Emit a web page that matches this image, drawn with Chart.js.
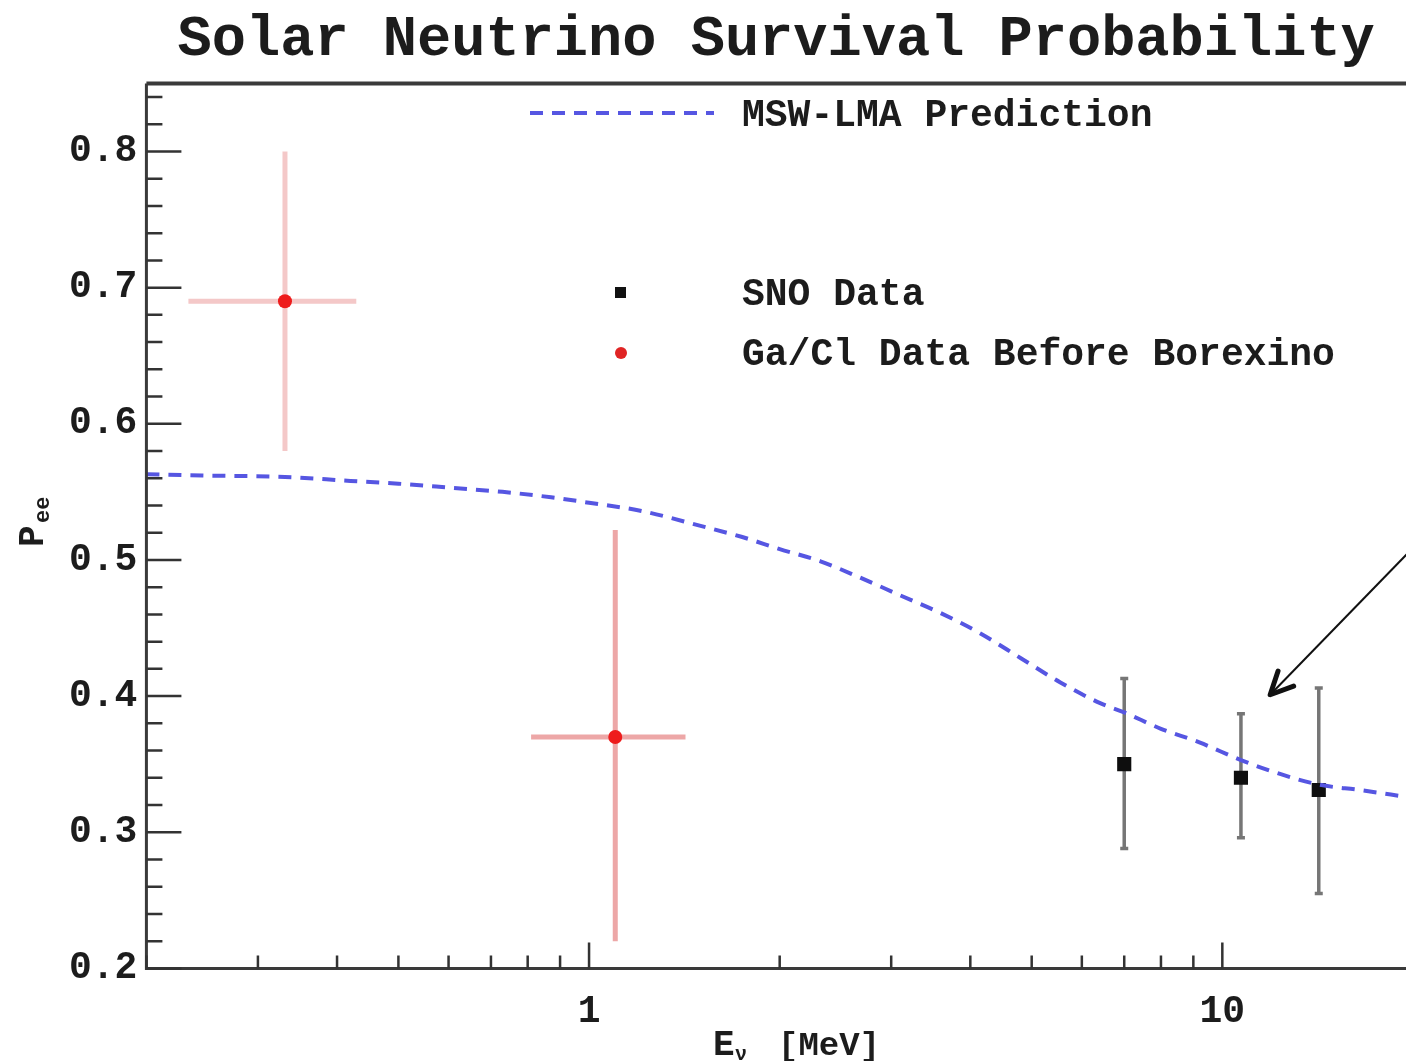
<!DOCTYPE html>
<html>
<head>
<meta charset="utf-8">
<script src="https://cdn.jsdelivr.net/npm/chart.js@4.4.1/dist/chart.umd.min.js"></script>
<style>
  html, body { margin: 0; padding: 0; background: #fff; overflow: hidden; }
  #wrap { width: 1416px; height: 1061px; }
</style>
</head>
<body>
<div id="wrap"><canvas id="chart"></canvas></div>
<script>
const FONT = '"Liberation Mono", "DejaVu Sans Mono", monospace';
const INK = "#1c1c1c";
const BLUE = "#5656e2";

// MSW-LMA prediction
const mswEnergy = [0.2, 0.245, 0.331, 0.42, 0.5, 0.606, 0.73, 0.871, 1.0, 1.21, 1.5, 1.74, 2.0, 2.32, 2.68, 3.1, 3.59, 4.15, 4.8, 5.55, 6.4, 7.0, 8.0, 9.2, 10.7, 12.3, 14.2, 16.5, 19.5];
const mswPee = [0.563, 0.562, 0.561, 0.558, 0.556, 0.553, 0.55, 0.546, 0.542, 0.536, 0.525, 0.517, 0.508, 0.499, 0.487, 0.474, 0.461, 0.446, 0.428, 0.41, 0.395, 0.388, 0.376, 0.366, 0.353, 0.343, 0.335, 0.331, 0.326];

// SNO data (vertical errors only)
const snoEnergy = [7.0, 10.7, 14.2];
const snoPee = [0.35, 0.34, 0.331];
const snoHi = [0.413, 0.387, 0.406];
const snoLo = [0.288, 0.296, 0.255];

// Ga/Cl data before Borexino
const gaEnergy = [0.331, 1.10];
const gaPee = [0.69, 0.37];
const gaHi = [0.80, 0.522];
const gaLo = [0.58, 0.22];
const gaELo = [0.233, 0.81];
const gaEHi = [0.429, 1.42];

// axis ticks
const xTickValues = [0.2, 0.3, 0.4, 0.5, 0.6, 0.7, 0.8, 0.9, 1, 2, 3, 4, 5, 6, 7, 8, 9, 10];
const xMajor = [1, 10];
const yTickValues = [0.2, 0.3, 0.4, 0.5, 0.6, 0.7, 0.8];

// arrow annotation, in data units
const arrowFrom = { x: 21, y: 0.519 };
const arrowTo = { x: 11.9, y: 0.401 };

const pts = (xs, ys) => xs.map((x, i) => ({ x, y: ys[i] }));

const decorPlugin = {
  id: "decor",
  beforeDatasetsDraw(chart) {
    const { ctx, scales: { x, y } } = chart;
    ctx.save();
    // Ga/Cl error bars
    const gaBarColors = ["rgba(226,110,110,0.38)", "rgba(220,80,80,0.5)"];
    ctx.lineWidth = 5;
    gaEnergy.forEach((e, i) => {
      const px = x.getPixelForValue(e), py = y.getPixelForValue(gaPee[i]);
      ctx.strokeStyle = gaBarColors[i];
      ctx.beginPath();
      ctx.moveTo(px, y.getPixelForValue(gaHi[i]));
      ctx.lineTo(px, y.getPixelForValue(gaLo[i]));
      ctx.moveTo(x.getPixelForValue(gaELo[i]), py);
      ctx.lineTo(x.getPixelForValue(gaEHi[i]), py);
      ctx.stroke();
    });
    // SNO error bars
    ctx.strokeStyle = "rgba(60,60,60,0.7)";
    ctx.lineWidth = 3.5;
    snoEnergy.forEach((e, i) => {
      const px = x.getPixelForValue(e);
      const t = y.getPixelForValue(snoHi[i]), b = y.getPixelForValue(snoLo[i]);
      ctx.beginPath();
      ctx.moveTo(px, t);
      ctx.lineTo(px, b);
      ctx.moveTo(px - 4, t); ctx.lineTo(px + 4, t);
      ctx.moveTo(px - 4, b); ctx.lineTo(px + 4, b);
      ctx.stroke();
    });
    ctx.restore();
  },
  afterDraw(chart) {
    const { ctx, chartArea: ca, scales: { x, y } } = chart;
    ctx.save();
    // frame
    ctx.strokeStyle = "#3a3a3a";
    ctx.lineWidth = 4;
    ctx.beginPath();
    ctx.moveTo(ca.left, ca.top);
    ctx.lineTo(ca.right + 2, ca.top);
    ctx.stroke();
    ctx.lineWidth = 3;
    ctx.beginPath();
    ctx.moveTo(ca.left, ca.top);
    ctx.lineTo(ca.left, ca.bottom);
    ctx.lineTo(ca.right + 2, ca.bottom);
    ctx.stroke();

    // inward tick marks
    ctx.strokeStyle = "#333";
    ctx.lineWidth = 2.5;
    ctx.beginPath();
    xTickValues.forEach((v) => {
      const px = x.getPixelForValue(v);
      const len = xMajor.includes(v) ? 26 : 13;
      ctx.moveTo(px, ca.bottom);
      ctx.lineTo(px, ca.bottom - len);
    });
    for (let k = 0; k < yTickValues.length; k++) {
      const base = yTickValues[k];
      for (let j = 0; j < 5; j++) {
        const v = base + j * 0.02;
        if (v > y.max) break;
        const py = y.getPixelForValue(v);
        ctx.moveTo(ca.left, py);
        ctx.lineTo(ca.left + (j === 0 ? 35 : 16), py);
      }
    }
    ctx.stroke();

    // legend
    ctx.fillStyle = INK;
    ctx.font = `bold 38px ${FONT}`;
    ctx.textBaseline = "middle";
    ctx.textAlign = "left";
    ctx.strokeStyle = BLUE;
    ctx.lineWidth = 4;
    ctx.setLineDash([13, 9]);
    ctx.beginPath();
    ctx.moveTo(530, 113);
    ctx.lineTo(714, 113);
    ctx.stroke();
    ctx.setLineDash([]);
    ctx.fillText("MSW-LMA Prediction", 742, 116);
    ctx.fillStyle = "#111";
    ctx.fillRect(615, 287, 11, 11);
    ctx.fillStyle = INK;
    ctx.fillText("SNO Data", 742, 295);
    ctx.fillStyle = "#e02424";
    ctx.beginPath();
    ctx.arc(621, 353, 6, 0, Math.PI * 2);
    ctx.fill();
    ctx.fillStyle = INK;
    ctx.fillText("Ga/Cl Data Before Borexino", 742, 355);

    // axis titles
    ctx.textBaseline = "alphabetic";
    ctx.font = `bold 36px ${FONT}`;
    ctx.fillText("E", 713, 1055);
    ctx.font = `bold 20px ${FONT}`;
    ctx.fillText("\u03bd", 735, 1060);
    ctx.font = `bold 34px ${FONT}`;
    ctx.fillText("[MeV]", 778, 1055);

    ctx.save();
    ctx.translate(43, 547);
    ctx.rotate(-Math.PI / 2);
    ctx.font = `bold 36px ${FONT}`;
    ctx.fillText("P", 0, 0);
    ctx.font = `bold 22px ${FONT}`;
    ctx.fillText("ee", 24, 6);
    ctx.restore();

    // arrow
    const ax = x.getPixelForValue(arrowFrom.x), ay = y.getPixelForValue(arrowFrom.y);
    const bx = x.getPixelForValue(arrowTo.x), by = y.getPixelForValue(arrowTo.y);
    ctx.strokeStyle = "#111";
    ctx.lineWidth = 2;
    ctx.beginPath();
    ctx.moveTo(ax, ay);
    ctx.lineTo(bx, by);
    ctx.stroke();
    const ang = Math.atan2(ay - by, ax - bx);
    ctx.lineWidth = 5;
    ctx.lineCap = "round";
    ctx.lineJoin = "round";
    ctx.beginPath();
    ctx.moveTo(bx + 25 * Math.cos(ang - 0.45), by + 25 * Math.sin(ang - 0.45));
    ctx.lineTo(bx, by);
    ctx.lineTo(bx + 25 * Math.cos(ang + 0.45), by + 25 * Math.sin(ang + 0.45));
    ctx.stroke();
    ctx.restore();
  },
};

new Chart(document.getElementById("chart"), {
  type: "scatter",
  data: {
    datasets: [
      {
        label: "MSW-LMA Prediction",
        data: pts(mswEnergy, mswPee),
        showLine: true,
        borderColor: BLUE,
        borderWidth: 4,
        borderDash: [13, 9],
        pointRadius: 0,
        cubicInterpolationMode: "monotone",
      },
      {
        label: "SNO Data",
        data: pts(snoEnergy, snoPee),
        pointStyle: "rect",
        pointRadius: 10,
        backgroundColor: "#0e0e0e",
        borderWidth: 0,
      },
      {
        label: "Ga/Cl Data Before Borexino",
        data: pts(gaEnergy, gaPee),
        pointStyle: "circle",
        pointRadius: 7,
        backgroundColor: "#ee1c1c",
        borderWidth: 0,
      },
    ],
  },
  options: {
    responsive: true,
    maintainAspectRatio: false,
    animation: false,
    layout: { padding: { left: 60, right: 0, top: 0, bottom: 5 } },
    plugins: {
      legend: { display: false },
      tooltip: { enabled: false },
      title: {
        display: true,
        text: "Solar Neutrino Survival Probability",
        fullSize: false,
        color: INK,
        font: { family: FONT, size: 57, weight: "bold" },
        padding: { top: 6, bottom: 9 },
      },
    },
    scales: {
      x: {
        type: "logarithmic",
        min: 0.2,
        max: 19.5,
        afterBuildTicks: (axis) => {
          axis.ticks = xTickValues.map((v) => ({ value: v }));
        },
        grid: { display: false, drawTicks: false },
        border: { display: false },
        ticks: {
          autoSkip: false,
          maxRotation: 0,
          padding: 21,
          color: INK,
          font: { family: FONT, size: 38, weight: "bold" },
          callback: (v) => (xMajor.includes(v) ? String(v) : ""),
        },
      },
      y: {
        min: 0.2,
        max: 0.85,
        afterBuildTicks: (axis) => {
          axis.ticks = yTickValues.map((v) => ({ value: v }));
        },
        grid: { display: false, drawTicks: false },
        border: { display: false },
        ticks: {
          padding: 9,
          color: INK,
          font: { family: FONT, size: 38, weight: "bold" },
          callback: (v) => v.toFixed(1),
        },
      },
    },
  },
  plugins: [decorPlugin],
});
</script>
</body>
</html>
